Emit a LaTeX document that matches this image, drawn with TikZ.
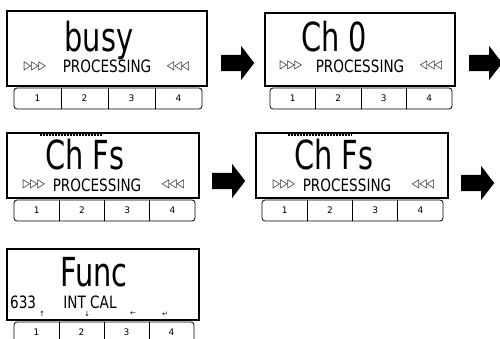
\documentclass[tikz,border=0pt]{standalone}
\usepackage{fontspec}
\setmainfont{DejaVu Sans}
\newfontfamily\lcdbig[FakeStretch=0.72]{DejaVu Sans}
\newfontfamily\lcdsmall[FakeStretch=0.8]{DejaVu Sans}
\usetikzlibrary{shapes.arrows}

\tikzset{
  lcd/.style={draw, line width=1.8pt},
  keybar/.style={draw, line width=0.8pt, rounded corners=3pt},
  keylabel/.style={font=\fontsize{9}{9}\selectfont, inner sep=0pt},
  bigtxt/.style={font=\lcdbig\fontsize{40}{40}\selectfont, inner sep=0pt, anchor=base},
  smalltxt/.style={font=\lcdsmall\fontsize{17}{17}\selectfont, inner sep=0pt, anchor=base},
  marks/.style={font=\lcdsmall\fontsize{12}{12}\selectfont, inner sep=0pt},
  softkey/.style={font=\fontsize{7}{7}\selectfont, inner sep=0pt},
  segbar/.style={line width=2pt, dash pattern=on 2.2pt off 0.8pt},
  nextarrow/.style={single arrow, fill=black, inner sep=8pt, minimum height=33pt,
    single arrow head extend=9pt, single arrow tip angle=105, anchor=west}
}

% row of four keys below a display: #1 left, #2 top, #3 width, #4 name
\newcommand{\keyrow}[4]{%
  \draw[keybar] (#1,#2) rectangle ++(#3,21);
  \foreach \k in {1,2,3}
    \draw[line width=0.8pt] ({#1+\k*#3/4},#2) -- ++(0,21);
  \foreach \k in {1,...,4}
    \node[keylabel] (#4-\k) at ({#1+(\k-0.5)*#3/4},#2+10.5) {\k};
}

\begin{document}
\begin{tikzpicture}[x=1pt,y=-1pt]
  \useasboundingbox (0,0) rectangle (500,339);

  % display 1: busy
  \draw[lcd] (7,11) rectangle (207,86);
  \node[bigtxt] (busy) at (99,52) {busy};
  \node[marks] (l1) at (35,66.5) {▷▷▷};
  \node[smalltxt] (proc1) at (107,73) {PROCESSING};
  \node[marks] (r1) at (178,66.5) {◁◁◁};
  \keyrow{14}{88}{188}{ka}

  % display 2: channel 0
  \draw[lcd] (265,13) rectangle (455,86);
  \node[bigtxt] (ch0) at (334,52) {Ch 0};
  \node[marks] (l2) at (291,65.5) {▷▷▷};
  \node[smalltxt] (proc2) at (360,73) {PROCESSING};
  \node[marks] (r2) at (431,65.5) {◁◁◁};
  \keyrow{270}{88}{182}{kb}

  % display 3: channel Fs
  \draw[lcd] (7,133) rectangle (199,198);
  \draw[segbar] (40,135.5) -- (102,135.5);
  \node[bigtxt] (chfs1) at (85,170) {Ch Fs};
  \node[marks] (l3) at (34,184.5) {▷▷▷};
  \node[smalltxt] (proc3) at (97,191) {PROCESSING};
  \node[marks] (r3) at (173,184.5) {◁◁◁};
  \keyrow{14}{200}{181}{kc}

  % display 4: channel Fs again
  \draw[lcd] (256,133) rectangle (448,198);
  \draw[segbar] (288,135.5) -- (352,135.5);
  \node[bigtxt] (chfs2) at (334,170) {Ch Fs};
  \node[marks] (l4) at (284,184.5) {▷▷▷};
  \node[smalltxt] (proc4) at (347,191) {PROCESSING};
  \node[marks] (r4) at (423,184.5) {◁◁◁};
  \keyrow{262}{200}{181}{kd}

  % display 5: function menu
  \draw[lcd] (7,249) rectangle (199,320);
  \node[bigtxt] (func) at (94,286) {Func};
  \node[smalltxt, anchor=base west] (num) at (10,308) {633};
  \node[smalltxt] (intcal) at (90,308) {INT CAL};
  \node[softkey] (up) at (42,314) {↑};
  \node[softkey] (down) at (87,314) {↓};
  \node[softkey] (left) at (133,314) {←};
  \node[softkey] (enter) at (165,314) {↵};
  \keyrow{14}{322}{180}{ke}

  % step arrows
  \node[nextarrow] (arr1) at (221,63) {};
  \node[nextarrow] (arr2) at (469,63) {};
  \node[nextarrow] (arr3) at (212,181) {};
  \node[nextarrow] (arr4) at (461,183) {};
\end{tikzpicture}
\end{document}
